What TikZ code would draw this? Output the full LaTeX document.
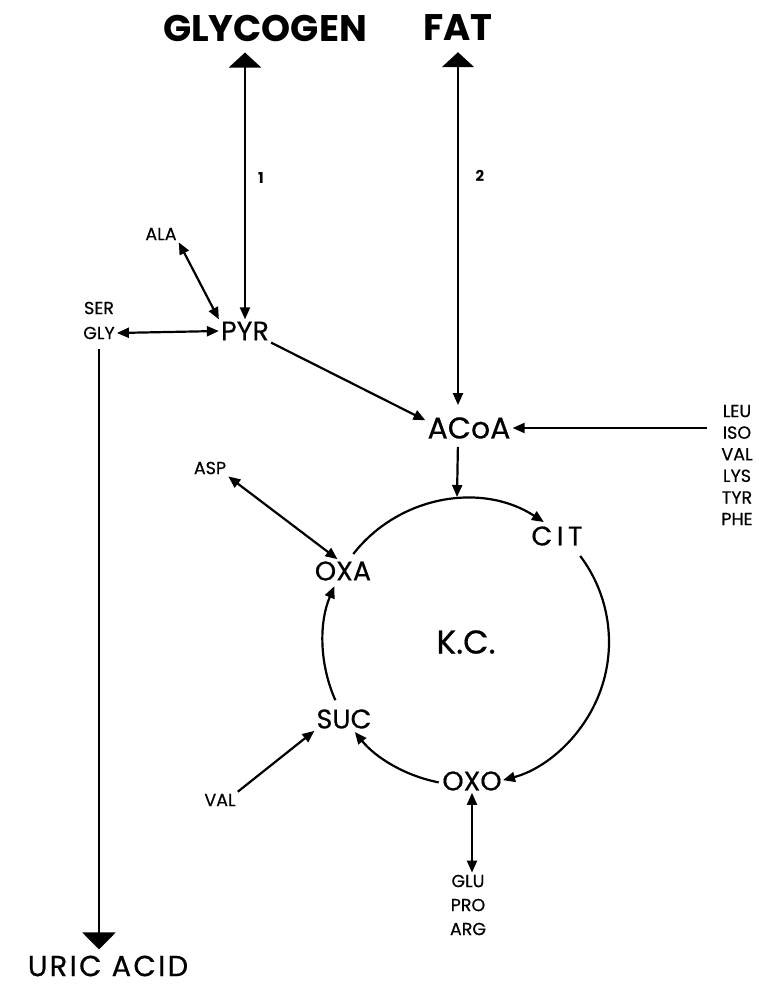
\documentclass[tikz,border=0pt]{standalone}
\usepackage{fontspec}
\setmainfont{Poppins}
\newfontfamily\medfont{Poppins}[FakeBold=0.5]
\usetikzlibrary{arrows.meta,positioning,calc}
\tikzset{
  met/.style={font=\medfont\fontsize{27}{30}\selectfont, inner sep=2pt},
  amino/.style={font=\medfont\fontsize{17.5}{21.6}\selectfont, align=center, inner sep=2pt},
  headline/.style={font=\bfseries\fontsize{37}{44}\selectfont, inner sep=2pt},
  conv/.style={-{Triangle[length=12pt,width=10pt]}, line width=2.2pt},
  convboth/.style={{Triangle[length=12pt,width=10pt]}-{Triangle[length=12pt,width=10pt]}, line width=2.2pt},
  toheadline/.style={{Triangle[length=12pt,width=10pt]}-{Triangle[length=15pt,width=32pt]}, line width=2.2pt},
}

\begin{document}
\begin{tikzpicture}[x=1pt, y=-1pt]
\useasboundingbox (0,0) rectangle (759,988);
% stores at the top and bottom
\node[headline] (glycogen) at (265,28) {GLYCOGEN};
\node[headline] (fat) at (458,28) {FAT};
\node[font=\medfont\fontsize{29}{34}\selectfont\addfontfeature{LetterSpace=8}, inner sep=2pt] (uric) at (108,966) {URIC ACID};
% main metabolites
\node[met] (pyr) at (245,331) {PYR};
\node[met, font=\medfont\fontsize{30}{30}\selectfont] (acoa) at (469,428) {ACoA};
\coordinate (kc) at (466,642);
\node[font=\medfont\fontsize{33}{36}\selectfont] (kclabel) at (kc) {K.C.};
\node[met] (oxa) at (343,571) {OXA};
\node[met] (cit) at (557,536) {C\,I\,T};
\node[met] (suc) at (344,719) {SUC};
\node[met] (oxo) at (472,781) {OXO};
% amino acids
\node[amino] (ala) at (161,234) {ALA};
\node[amino] (ser) at (99,308) {SER};
\node[amino] (gly) at (99,333) {GLY};
\node[amino] (asp) at (210,468) {ASP};
\node[amino] (val) at (220,800) {VAL};
\node[amino] (leu) at (737,465) {LEU\\ISO\\VAL\\LYS\\TYR\\PHE};
\node[amino, font=\medfont\fontsize{17.5}{24}\selectfont] (glu) at (468,905) {GLU\\PRO\\ARG};
\node[amino, font=\bfseries\fontsize{15}{16}\selectfont] (lab1) at (261,178) {1};
\node[amino, font=\bfseries\fontsize{15}{16}\selectfont] (lab2) at (480,176) {2};
\coordinate (leuin) at ([xshift=-12pt]leu.west);
\coordinate (kctop) at (457,497);

% connectors
\draw[toheadline, shorten >=9pt] (pyr.north) -- (pyr.north |- glycogen.south);
\draw[toheadline, shorten >=9pt, shorten <=10pt] (acoa.north -| fat.south) -- (fat.south);
\draw[convboth] (ala.south east) -- (pyr.north west);
\draw[convboth] (gly.east) -- (pyr.west);
\draw[-{Triangle[length=17pt,width=33pt]}, line width=2.2pt, shorten <=8pt, shorten >=4pt] (gly.south) -- (gly.south |- uric.north);
\draw[conv] (pyr.south east) -- (acoa.170);
\draw[conv] (leuin |- acoa.east) -- (acoa.east);
\draw[conv, shorten <=6pt] (acoa.south -| fat.south) -- (kctop);
\draw[convboth] (asp.south east) -- (oxa.115);
\draw[conv] (val.north east) -- (suc.south west);
\draw[convboth] (oxo.south) -- (oxo.south |- glu.north);
% Krebs cycle arcs
\draw[conv] (kc) ++(-142:143) arc[start angle=-142, end angle=-57, radius=143];
\draw[conv] (kc) ++(-37:143) arc[start angle=-37, end angle=75, radius=143];
\draw[conv] (kc) ++(101:143) arc[start angle=101, end angle=141, radius=143];
\draw[conv] (kc) ++(156:143) arc[start angle=156, end angle=203, radius=143];
\end{tikzpicture}
\end{document}
